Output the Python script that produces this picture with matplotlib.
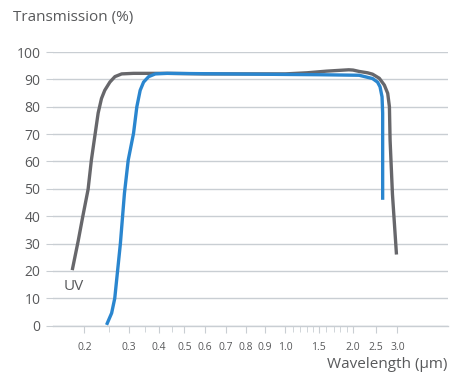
import numpy as np
import matplotlib
matplotlib.use('Agg')
from matplotlib import pyplot as plt

plt.rcParams['font.family'] = ['Open Sans', 'DejaVu Sans']

# reference wavelengths and where they sit on the (odd) chart axis
axis_wl = [0.15, 0.2, 0.3, 0.4, 0.5, 0.6, 0.7, 0.8, 0.9, 1.0, 1.5, 2.0, 2.5, 3.0, 4.0]
axis_pos = [57, 88, 132, 162, 187, 207, 228, 248, 267, 287, 320, 354, 377, 398, 448]

tick_wl = [0.2, 0.3, 0.4, 0.5, 0.6, 0.7, 0.8, 0.9, 1.0, 1.5, 2.0, 2.5, 3.0]
tick_labels = ['0.2', '0.3', '0.4', '0.5', '0.6', '0.7', '0.8', '0.9', '1.0',
               '1.5', '2.0', '2.5', '3.0']
minor_wl = [0.25, 0.35, 0.45, 1.1, 1.2, 1.3, 1.4, 1.6, 1.7, 1.8, 1.9]

# UV grade (gray)
uv_wl = [0.179, 0.189, 0.197, 0.207, 0.2133, 0.2199, 0.2269, 0.2339, 0.241, 0.2525,
         0.2644, 0.2812, 0.3139, 0.35, 0.43, 0.6, 1.0, 1.3, 1.6, 1.93, 2.0, 2.12,
         2.3, 2.412, 2.566, 2.68, 2.758, 2.799, 2.815, 2.873, 2.974]
uv_t = [20.3, 30.9, 39.7, 49.8, 60.5, 69.0, 77.7, 83.0, 86.0, 89.0,
        91.0, 92.0, 92.2, 92.2, 92.2, 92.0, 92.0, 92.4, 93.0, 93.5, 93.4, 92.9,
        92.4, 91.9, 90.4, 87.9, 84.9, 80.0, 67.8, 48.0, 26.0]

# standard grade (blue)
std_wl = [0.245, 0.2566, 0.264, 0.2779, 0.2884, 0.2985, 0.3139, 0.3239, 0.3343,
          0.3453, 0.3623, 0.3861, 0.4297, 0.7, 1.0, 1.5, 2.12, 2.412, 2.527,
          2.582, 2.627, 2.641, 2.641]
std_t = [0.3, 4.6, 10.0, 30.0, 48.4, 60.5, 70.3, 80.0, 86.0,
         89.0, 91.0, 92.0, 92.2, 92.0, 91.8, 91.7, 91.5, 90.3, 89.0,
         87.3, 83.6, 77.7, 46.0]

lw = np.log10(axis_wl)


def fwd(x):
    x = np.clip(np.asarray(x, dtype=float), 1e-3, None)
    return np.interp(np.log10(x), lw, axis_pos)


def inv(p):
    return 10 ** np.interp(p, axis_pos, lw)


grid_c = '#c9ced3'
text_c = '#58595b'

fig = plt.figure(figsize=(4.62, 3.78), dpi=100)
ax = fig.add_axes([53 / 462, 1 - 325.7 / 378, 395 / 462, 273.7 / 378])
ax.set_xscale('function', functions=(fwd, inv))

ax.plot(uv_wl, uv_t, color='#67676b', lw=2.4, solid_capstyle='butt',
        solid_joinstyle='round', zorder=3)
ax.plot(std_wl, std_t, color='#2a86cf', lw=2.4, solid_capstyle='butt',
        solid_joinstyle='round', zorder=4)

ax.set_xlim(float(inv(53)), float(inv(448)))
ax.set_ylim(0, 100)
ax.set_yticks(range(0, 101, 10))
ax.yaxis.grid(True, color=grid_c, lw=1.0)
ax.set_axisbelow(True)
for s in ['top', 'right', 'left']:
    ax.spines[s].set_visible(False)
ax.spines['bottom'].set_color(grid_c)
ax.spines['bottom'].set_linewidth(1.0)

ax.set_xticks(tick_wl)
ax.set_xticklabels(tick_labels)
ax.set_xticks(minor_wl, minor=True)
ax.tick_params(axis='x', which='major', length=5, color=grid_c, labelsize=7.5,
               labelcolor=text_c, pad=7)
ax.tick_params(axis='x', which='minor', length=4, color=grid_c)
ax.tick_params(axis='y', length=5, color=grid_c, labelsize=10, labelcolor=text_c, pad=4)

ax.text(0.165, 14.5, 'UV', fontsize=11, color=text_c, ha='left', va='center')

fig.text(13 / 462, 1 - 17 / 378, 'Transmission (%)', fontsize=11, color=text_c,
         ha='left', va='center')
fig.text(447 / 462, 1 - 365 / 378, 'Wavelength (\u00b5m)', fontsize=11, color=text_c,
         ha='right', va='center')

fig.savefig('out.png', dpi=100)
